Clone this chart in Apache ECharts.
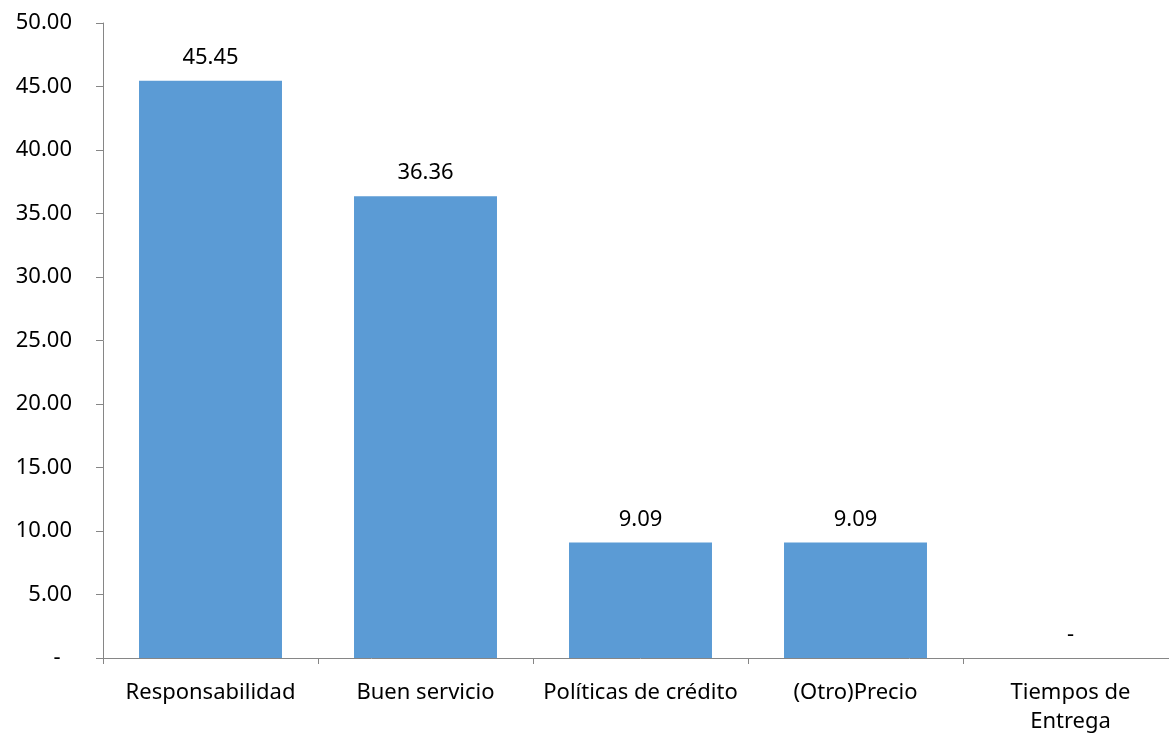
<!DOCTYPE html>
<html>
<head>
<meta charset="utf-8">
<script src="https://cdn.jsdelivr.net/npm/echarts@6/dist/echarts.min.js"></script>
<style>
  html, body { margin: 0; padding: 0; background: #fff; overflow: hidden; }
  #chart { width: 1178px; height: 736px; }
</style>
</head>
<body>
<div id="chart"></div>
<script>
// categorias y valores (%)
var categories = ['Responsabilidad', 'Buen servicio', 'Políticas de crédito', '(Otro)Precio', 'Tiempos de\nEntrega'];
var values = [45.45, 36.36, 9.09, 9.09, 0];

var fontFamily = '"Noto Sans", "Liberation Sans", sans-serif';

var chart = echarts.init(document.getElementById('chart'));

var option = {
    animation: false,
    textStyle: { fontFamily: fontFamily },
    grid: { left: 103, top: 23, bottom: 78, right: 0 },
    xAxis: {
        type: 'category',
        data: categories,
        axisLine: { lineStyle: { color: '#868686', width: 1 } },
        axisTick: { show: true, alignWithLabel: false, length: 6, lineStyle: { color: '#868686' } },
        axisLabel: { color: '#000', fontSize: 22, margin: 20, lineHeight: 29, fontFamily: fontFamily, interval: 0 }
    },
    yAxis: {
        type: 'value',
        min: 0,
        max: 50,
        interval: 5,
        splitLine: { show: false },
        axisLine: { show: true, lineStyle: { color: '#868686', width: 1 } },
        axisTick: { show: true, length: 7, lineStyle: { color: '#868686' } },
        axisLabel: {
            color: '#000', fontSize: 22, margin: 31, fontFamily: fontFamily,
            formatter: function (v) { return v === 0 ? '-  ' : v.toFixed(2); }
        }
    },
    series: [{
        type: 'bar',
        data: values,
        barCategoryGap: '33.5%',
        itemStyle: { color: '#5B9BD5' },
        label: {
            show: true,
            position: 'top',
            distance: 12,
            color: '#000',
            fontSize: 22,
            fontFamily: fontFamily,
            formatter: function (p) { return p.value === 0 ? '-' : p.value.toFixed(2); }
        }
    }]
};

chart.setOption(option);
</script>
</body>
</html>
